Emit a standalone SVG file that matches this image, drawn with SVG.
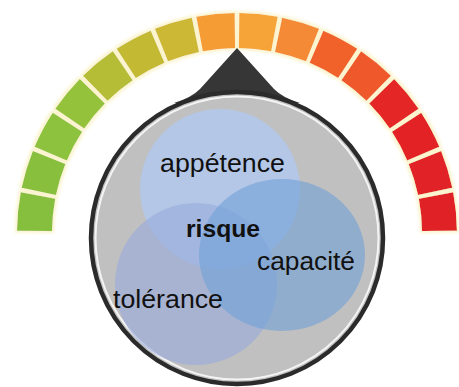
<svg xmlns="http://www.w3.org/2000/svg" xmlns:xlink="http://www.w3.org/1999/xlink" width="459" height="387" viewBox="0 0 459 387">
<style>
.lbl{font-family:"Liberation Sans",Arial,sans-serif;font-size:25px;fill:#111}
.b{font-weight:bold;font-size:24px}
</style>
<defs>
<path id="seg" d="M217.73,13.84 A220,220 0 0 1 256.27,13.84 L253.2,48.71 A185,185 0 0 0 220.8,48.71 Z"/>
<filter id="glow" x="-10%" y="-10%" width="120%" height="120%">
<feMorphology in="SourceAlpha" operator="dilate" radius="2" result="d"/>
<feGaussianBlur in="d" stdDeviation="1.5" result="b"/>
<feFlood flood-color="#fbf4cf"/>
<feComposite in2="b" operator="in" result="g"/>
<feGaussianBlur in="SourceGraphic" stdDeviation="0.6" result="s"/>
<feMerge><feMergeNode in="g"/><feMergeNode in="s"/></feMerge>
</filter>
</defs>
<rect width="459" height="387" fill="#ffffff"/>
<g id="gauge" filter="url(#glow)">
<use xlink:href="#seg" fill="#86bf3c" transform="rotate(-84.375 237 233)"/>
<use xlink:href="#seg" fill="#88c03c" transform="rotate(-73.125 237 233)"/>
<use xlink:href="#seg" fill="#8cc23d" transform="rotate(-61.875 237 233)"/>
<use xlink:href="#seg" fill="#94c23b" transform="rotate(-50.625 237 233)"/>
<use xlink:href="#seg" fill="#b4bd34" transform="rotate(-39.375 237 233)"/>
<use xlink:href="#seg" fill="#c3b932" transform="rotate(-28.125 237 233)"/>
<use xlink:href="#seg" fill="#cdb834" transform="rotate(-16.875 237 233)"/>
<use xlink:href="#seg" fill="#f69c36" transform="rotate(-5.625 237 233)"/>
<use xlink:href="#seg" fill="#f6a337" transform="rotate(5.625 237 233)"/>
<use xlink:href="#seg" fill="#f48a34" transform="rotate(16.875 237 233)"/>
<use xlink:href="#seg" fill="#f0622c" transform="rotate(28.125 237 233)"/>
<use xlink:href="#seg" fill="#ee582a" transform="rotate(39.375 237 233)"/>
<use xlink:href="#seg" fill="#e42626" transform="rotate(50.625 237 233)"/>
<use xlink:href="#seg" fill="#e32326" transform="rotate(61.875 237 233)"/>
<use xlink:href="#seg" fill="#e12126" transform="rotate(73.125 237 233)"/>
<use xlink:href="#seg" fill="#e02026" transform="rotate(84.375 237 233)"/>
</g>
<g id="pointer">
<path d="M237,48 L200,89 Q191,98 174,103 L300,103 Q283,98 274,89 Z" fill="#363636"/>
</g>
<g id="dial">
<circle cx="237" cy="238" r="146" fill="#c0c0c0" stroke="#2b2b2b" stroke-width="4.5"/>
<circle cx="237" cy="238" r="141.5" fill="none" stroke="#f4f4f4" stroke-width="2"/>
</g>
<g id="appetence">
<circle cx="220" cy="189" r="80" fill="#b4c7e7"/>
</g>
<g id="tolerance">
<circle cx="196" cy="284" r="81" fill="#96aadc" fill-opacity="0.6"/>
</g>
<g id="capacite">
<ellipse cx="282" cy="255" rx="83" ry="76" fill="#6fa0d7" fill-opacity="0.6"/>
</g>
<g id="connectors"></g>
<g id="labels">
<text class="lbl" x="160" y="172" textLength="125" lengthAdjust="spacingAndGlyphs">appétence</text>
<text class="lbl b" x="186" y="237" textLength="74" lengthAdjust="spacingAndGlyphs">risque</text>
<text class="lbl" x="257" y="270" textLength="98" lengthAdjust="spacingAndGlyphs">capacité</text>
<text class="lbl" x="113" y="308" textLength="110" lengthAdjust="spacingAndGlyphs">tolérance</text>
</g>
</svg>
